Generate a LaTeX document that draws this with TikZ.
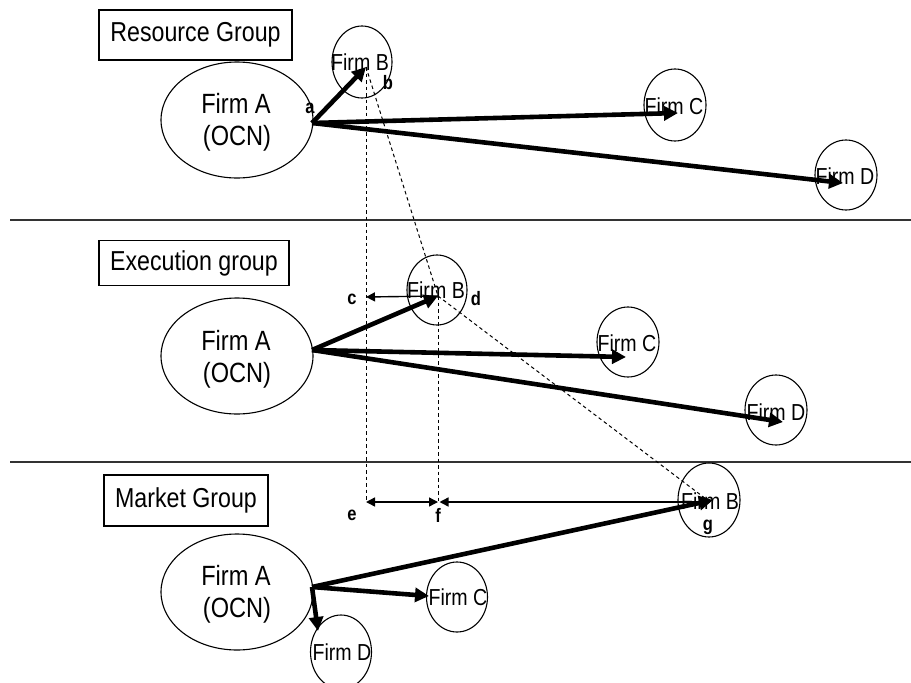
\documentclass[tikz,border=0pt]{standalone}
\usepackage{graphicx}
\usepackage{fontspec}
\setmainfont{Liberation Sans}
\usetikzlibrary{shapes.geometric,arrows.meta}
\newcommand{\tallt}[1]{\scalebox{1}[1.18]{#1}}
\begin{document}
\begin{tikzpicture}[x=1pt,y=-1pt,
  firm/.style={draw, ellipse, inner sep=0pt, line width=1.1pt},
  firmtxt/.style={inner sep=0.5pt, font=\fontsize{19.6}{20}\selectfont},
  bigtxt/.style={inner sep=1pt, font=\fontsize{23.6}{24}\selectfont},
  grp/.style={draw, line width=1.3pt, inner sep=0pt, font=\fontsize{23.2}{24}\selectfont},
  big/.style={line width=4.6pt, -{Triangle[length=14pt,width=14pt]}},
  thin/.style={line width=1.4pt},
  dsh/.style={line width=1pt, dash pattern=on 3.5pt off 3pt},
  lbl/.style={inner sep=0.5pt, font=\bfseries\fontsize{16.5}{17}\selectfont},
  sep/.style={line width=1.6pt, draw=black!80}
]
\useasboundingbox (0,0) rectangle (911,683);

% separators
\coordinate (s1l) at (10,220); \coordinate (s1r) at (911,220);
\coordinate (s2l) at (10,462); \coordinate (s2r) at (911,462);
\draw[sep] (s1l) -- (s1r);
\draw[sep] (s2l) -- (s2r);

% group boxes
\node[grp, minimum width=193pt, minimum height=50pt] (g1) at (195.5,35) {\tallt{Resource Group}};
\node[grp, minimum width=190pt, minimum height=45pt] (g2) at (194,263) {\tallt{Execution group}};
\node[grp, minimum width=164pt, minimum height=51pt] (g3) at (186,500.5) {\tallt{Market Group}};

% ---------- top row ----------
\node[firm, minimum width=152pt, minimum height=116pt] (fa1) at (237,120) {};
\node[bigtxt] (fa1t) at (236,103) {\tallt{Firm A}};
\node[bigtxt] (fa1o) at (237,138) {\tallt{(OCN)}};
\node[firm, minimum width=60pt, minimum height=72pt] (fb1) at (362,62) {};
\node[firmtxt] (fb1t) at (360,62) {\tallt{Firm B}};
\node[firm, minimum width=62pt, minimum height=72pt] (fc1) at (675,105) {};
\node[firmtxt] (fc1t) at (674,106) {\tallt{Firm C}};
\node[firm, minimum width=62pt, minimum height=70pt] (fd1) at (846,175) {};
\node[firmtxt] (fd1t) at (845,176) {\tallt{Firm D}};

\coordinate (o1) at (312,123);
\coordinate (tb1) at (366,67);
\coordinate (tc1) at (678,113);
\coordinate (td1) at (843,183);
\draw[big] (o1) -- (tb1);
\draw[big] (o1) -- (tc1);
\draw[big] (o1) -- (td1);
\node[lbl] (la) at (310,108) {\tallt{a}};
\node[lbl] (lb) at (388,83) {\tallt{b}};

% ---------- middle row ----------
\node[firm, minimum width=152pt, minimum height=116pt] (fa2) at (237,356) {};
\node[bigtxt] (fa2t) at (236,340) {\tallt{Firm A}};
\node[bigtxt] (fa2o) at (237,375) {\tallt{(OCN)}};
\node[firm, minimum width=60pt, minimum height=70pt] (fb2) at (437,290) {};
\node[firmtxt] (fb2t) at (436,290) {\tallt{Firm B}};
\node[firm, minimum width=62pt, minimum height=70pt] (fc2) at (628,342) {};
\node[firmtxt] (fc2t) at (627,343) {\tallt{Firm C}};
\node[firm, minimum width=62pt, minimum height=70pt] (fd2) at (776,410) {};
\node[firmtxt] (fd2t) at (776,412) {\tallt{Firm D}};

\coordinate (o2) at (312,350);
\coordinate (tb2) at (438,296);
\coordinate (tc2) at (626,357);
\coordinate (td2) at (783,422);
\draw[big] (o2) -- (tb2);
\draw[big] (o2) -- (tc2);
\draw[big] (o2) -- (td2);
\node[lbl] (lc) at (352,299) {\tallt{c}};
\node[lbl] (ld) at (476,299) {\tallt{d}};

% ---------- bottom row ----------
\node[firm, minimum width=152pt, minimum height=116pt] (fa3) at (237,592) {};
\node[bigtxt] (fa3t) at (236,575) {\tallt{Firm A}};
\node[bigtxt] (fa3o) at (237,610) {\tallt{(OCN)}};
\node[firm, minimum width=62pt, minimum height=74pt] (fb3) at (709,500) {};
\node[firmtxt] (fb3t) at (710,501) {\tallt{Firm B}};
\node[firm, minimum width=61pt, minimum height=70pt] (fc3) at (457,597) {};
\node[firmtxt] (fc3t) at (458,597) {\tallt{Firm C}};
\node[firm, minimum width=61pt, minimum height=74pt] (fd3) at (341,652) {};
\node[firmtxt] (fd3t) at (342,652) {\tallt{Firm D}};

\coordinate (o3) at (312,587);
\coordinate (tb3) at (713,500);
\coordinate (tc3) at (429,596);
\coordinate (td3) at (318,631);
\draw[big] (o3) -- (tb3);
\draw[big] (o3) -- (tc3);
\draw[big] (o3) -- (td3);

% ---------- dashed guides ----------
\coordinate (e0) at (366,502);
\coordinate (f0) at (438,502);
\coordinate (g0) at (710,502);
\coordinate (c0) at (366,297);
\draw[dsh] (tb1) -- (e0);
\draw[dsh] (tb1) -- (tb2);
\draw[dsh] (tb2) -- (f0);
\draw[dsh] (tb2) -- (g0);

% ---------- distance arrows ----------
\draw[thin, -{Triangle[length=9pt,width=9pt]}] (tb2) -- (c0);
\draw[thin, {Triangle[length=9pt,width=9pt]}-{Triangle[length=9pt,width=9pt]}] (e0) -- (f0);
\draw[thin, {Triangle[length=9pt,width=9pt]}-] ([xshift=1.5pt]f0) -- (g0);
\node[lbl] (le) at (352,515) {\tallt{e}};
\node[lbl] (lf) at (438,515) {\tallt{f}};
\node[lbl] (lg) at (708,527) {\tallt{g}};
\end{tikzpicture}
\end{document}
